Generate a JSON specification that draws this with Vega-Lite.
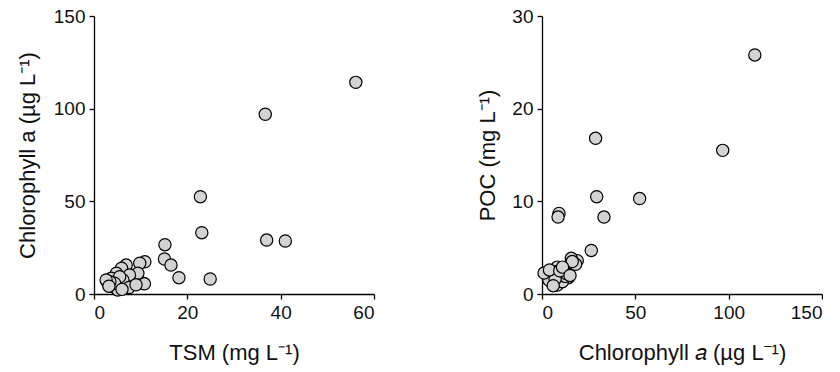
{
  "$schema": "https://vega.github.io/schema/vega-lite/v6.json",
  "background": "white",
  "padding": {"left": 16, "top": 7, "right": 0, "bottom": 8},
  "spacing": 101,
  "config": {
    "view": {"stroke": null},
    "font": "Liberation Sans",
    "axis": {
      "grid": false,
      "domainColor": "#000",
      "domainWidth": 1.3,
      "tickColor": "#000",
      "tickWidth": 1.3,
      "tickSize": 5,
      "labelFont": "Liberation Sans",
      "labelFontSize": 19,
      "labelColor": "#111",
      "labelPadding": 4,
      "titleFont": "Liberation Sans",
      "titleFontSize": 22,
      "titleFontWeight": "normal",
      "titleColor": "#111"
    }
  },
  "datasets": {
    "tsm_chl": [
      {"TSM": 56.1, "Chl": 114.2}, {"TSM": 36.7, "Chl": 97.0}, {"TSM": 22.8, "Chl": 52.5},
      {"TSM": 23.1, "Chl": 33.1}, {"TSM": 37.0, "Chl": 29.1}, {"TSM": 41.0, "Chl": 28.6},
      {"TSM": 15.2, "Chl": 26.6}, {"TSM": 15.1, "Chl": 18.9}, {"TSM": 16.5, "Chl": 15.6},
      {"TSM": 18.2, "Chl": 8.8}, {"TSM": 24.9, "Chl": 8.1}, {"TSM": 10.9, "Chl": 17.4},
      {"TSM": 9.8, "Chl": 16.6}, {"TSM": 6.9, "Chl": 15.6}, {"TSM": 5.9, "Chl": 13.9},
      {"TSM": 4.8, "Chl": 11.2}, {"TSM": 3.7, "Chl": 8.5}, {"TSM": 3.0, "Chl": 5.8},
      {"TSM": 4.1, "Chl": 3.9}, {"TSM": 5.1, "Chl": 2.2}, {"TSM": 6.9, "Chl": 5.8},
      {"TSM": 8.4, "Chl": 8.5}, {"TSM": 10.5, "Chl": 5.8}, {"TSM": 9.4, "Chl": 11.2},
      {"TSM": 7.6, "Chl": 10.3}, {"TSM": 6.2, "Chl": 7.6}, {"TSM": 5.5, "Chl": 9.3},
      {"TSM": 4.4, "Chl": 5.8}, {"TSM": 3.4, "Chl": 6.6}, {"TSM": 2.6, "Chl": 7.6},
      {"TSM": 10.8, "Chl": 5.5}, {"TSM": 7.5, "Chl": 3.5}, {"TSM": 9.0, "Chl": 5.0},
      {"TSM": 3.2, "Chl": 4.2}, {"TSM": 6.0, "Chl": 2.5}
    ],
    "chl_poc": [
      {"Chl": 114.0, "POC": 25.8}, {"Chl": 96.8, "POC": 15.5}, {"Chl": 52.3, "POC": 10.3},
      {"Chl": 28.7, "POC": 16.8}, {"Chl": 29.3, "POC": 10.5}, {"Chl": 33.2, "POC": 8.3},
      {"Chl": 9.1, "POC": 8.7}, {"Chl": 8.6, "POC": 8.3}, {"Chl": 26.4, "POC": 4.7},
      {"Chl": 18.9, "POC": 3.6}, {"Chl": 15.7, "POC": 3.85}, {"Chl": 18.0, "POC": 3.2},
      {"Chl": 16.2, "POC": 3.5}, {"Chl": 2.9, "POC": 2.2}, {"Chl": 4.6, "POC": 2.1},
      {"Chl": 9.6, "POC": 2.05}, {"Chl": 8.2, "POC": 2.9}, {"Chl": 11.8, "POC": 2.6},
      {"Chl": 14.1, "POC": 1.76}, {"Chl": 5.5, "POC": 1.15}, {"Chl": 8.2, "POC": 0.97},
      {"Chl": 3.7, "POC": 1.5}, {"Chl": 10.9, "POC": 1.33}, {"Chl": 1.1, "POC": 2.26},
      {"Chl": 6.5, "POC": 2.4}, {"Chl": 12.5, "POC": 1.9}, {"Chl": 7.0, "POC": 1.6},
      {"Chl": 13.0, "POC": 2.2}, {"Chl": 4.0, "POC": 2.6}, {"Chl": 9.5, "POC": 2.5},
      {"Chl": 11.0, "POC": 2.9}, {"Chl": 6.0, "POC": 0.9}, {"Chl": 15.0, "POC": 2.0}
    ]
  },
  "hconcat": [
    {
      "width": 280,
      "height": 278,
      "data": {"name": "tsm_chl"},
      "mark": {"type": "point", "shape": "circle", "filled": true, "fill": "#d3d3d3", "stroke": "#000", "strokeWidth": 1.2, "size": 150, "opacity": 1},
      "encoding": {
        "x": {"field": "TSM", "type": "quantitative", "scale": {"domain": [0, 60], "nice": false, "zero": true},
              "axis": {"values": [0, 20, 40, 60], "title": "TSM (mg L⁻¹)", "titlePadding": 20}},
        "y": {"field": "Chl", "type": "quantitative", "scale": {"domain": [0, 150], "nice": false},
              "axis": {"values": [0, 50, 100, 150], "title": "Chlorophyll a (µg L⁻¹)", "titlePadding": 14}}
      }
    },
    {
      "width": 280,
      "height": 278,
      "data": {"name": "chl_poc"},
      "mark": {"type": "point", "shape": "circle", "filled": true, "fill": "#d3d3d3", "stroke": "#000", "strokeWidth": 1.2, "size": 150, "opacity": 1},
      "encoding": {
        "x": {"field": "Chl", "type": "quantitative", "scale": {"domain": [0, 150], "nice": false},
              "axis": {"values": [0, 50, 100, 150], "title": "Chlorophyll 𝑎 (µg L⁻¹)", "titlePadding": 20}},
        "y": {"field": "POC", "type": "quantitative", "scale": {"domain": [0, 30], "nice": false},
              "axis": {"values": [0, 10, 20, 30], "title": "POC (mg L⁻¹)", "titlePadding": 12}}
      }
    }
  ]
}
